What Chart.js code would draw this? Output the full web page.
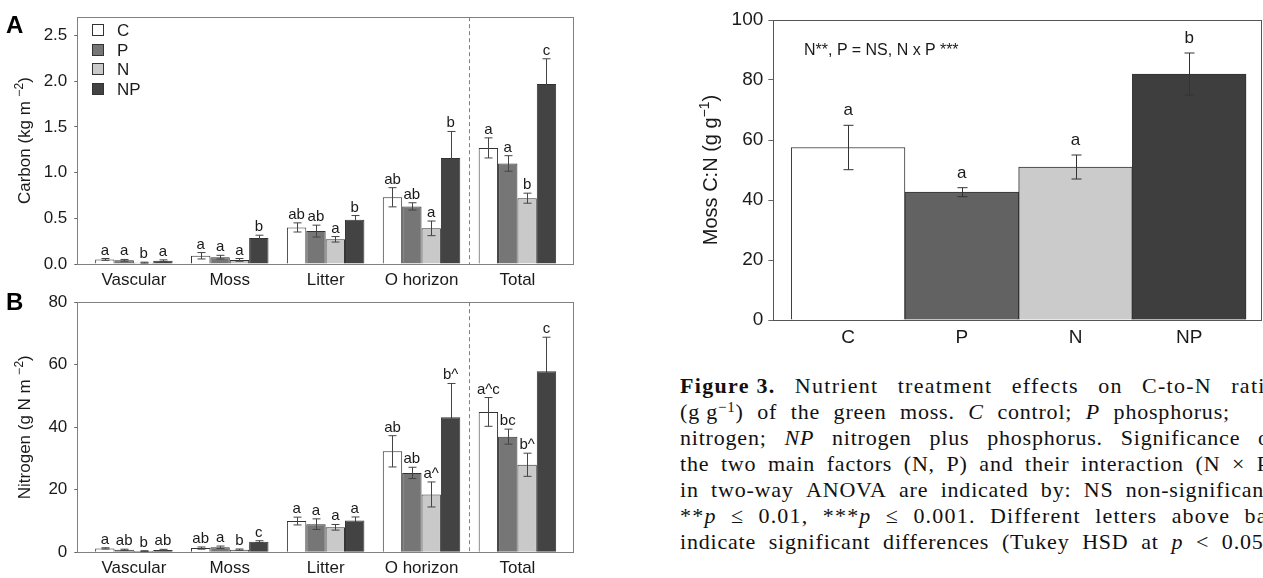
<!doctype html>
<html lang="en">
<head>
<meta charset="utf-8">
<title>Carbon and nitrogen pools, moss C:N</title>
<script src="https://cdn.jsdelivr.net/npm/chart.js@4.4.1/dist/chart.umd.min.js"></script>
<style>
  html,body{margin:0;padding:0;background:#fff;width:1263px;height:578px;overflow:hidden}
  body{position:relative;color:#1a1a1a;font-family:"Liberation Sans",Arial,Helvetica,sans-serif}
  canvas{position:absolute}
  .tag{position:absolute;font:bold 24px/24px "Liberation Sans",Arial,sans-serif;color:#000}
  .note{position:absolute;left:804px;top:42px;font:16px/16px "Liberation Sans",Arial,sans-serif;white-space:nowrap;color:#1a1a1a}
  .cap{position:absolute;left:680px;top:372.5px;font:22px/26.1px "Liberation Serif","Times New Roman",serif;color:#111;letter-spacing:.8px}
  .cap .ln{display:flex;justify-content:space-between;width:598px;height:26.1px;white-space:nowrap}
  .cap sup{font-size:.68em;line-height:0;vertical-align:.5em}
</style>
</head>
<body>
<canvas id="chartA" width="580" height="285" style="left:0;top:0"></canvas>
<canvas id="chartB" width="580" height="293" style="left:0;top:285px"></canvas>
<canvas id="chartCN" width="583" height="352" style="left:680px;top:0"></canvas>
<div class="tag" style="left:6px;top:13px">A</div>
<div class="tag" style="left:6px;top:290px">B</div>
<div class="note">N**, P = NS, N x P ***</div>

<div class="cap">
  <div class="ln" style="letter-spacing:1.3px;width:608px"><b>Figure&nbsp;3.</b><span>Nutrient</span><span>treatment</span><span>effects</span><span>on</span><span>C-to-N</span><span>ratios</span></div>
  <div class="ln" style="width:550px"><span>(g&nbsp;g<sup>−1</sup>)</span><span>of</span><span>the</span><span>green</span><span>moss.</span><i>C</i><span>control;</span><i>P</i><span>phosphorus;</span></div>
  <div class="ln"><span>nitrogen;</span><i>NP</i><span>nitrogen</span><span>plus</span><span>phosphorus.</span><span>Significance</span><span>of</span></div>
  <div class="ln"><span>the</span><span>two</span><span>main</span><span>factors</span><span>(N,</span><span>P)</span><span>and</span><span>their</span><span>interaction</span><span>(N</span><span>×</span><span>P)</span></div>
  <div class="ln"><span>in</span><span>two-way</span><span>ANOVA</span><span>are</span><span>indicated</span><span>by:</span><span>NS</span><span>non-significant;</span></div>
  <div class="ln" style="letter-spacing:1.2px;width:606px"><span>**<i>p</i></span><span>≤</span><span>0.01,</span><span>***<i>p</i></span><span>≤</span><span>0.001.</span><span>Different</span><span>letters</span><span>above</span><span>bars</span></div>
  <div class="ln"><span>indicate</span><span>significant</span><span>differences</span><span>(Tukey</span><span>HSD</span><span>at</span><i>p</i><span>&lt;</span><span>0.05).</span></div>
</div>

<script>
const FONT = '"Liberation Sans", Arial, Helvetica, sans-serif';

const groups = ['Vascular', 'Moss', 'Litter', 'O horizon', 'Total'];
const treatments = ['C', 'P', 'N', 'NP'];

// panel A - carbon (kg m-2), mean per group, one array per treatment
const carbonC  = [0.05, 0.09, 0.40, 0.73, 1.27];
const carbonP  = [0.04, 0.075, 0.36, 0.63, 1.10];
const carbonN  = [0.015, 0.045, 0.27, 0.39, 0.72];
const carbonNP = [0.035, 0.285, 0.485, 1.16, 1.97];
const carbonCErr  = [0.01, 0.035, 0.05, 0.105, 0.11];
const carbonPErr  = [0.01, 0.02, 0.065, 0.04, 0.085];
const carbonNErr  = [0.005, 0.015, 0.03, 0.08, 0.055];
const carbonNPErr = [0.01, 0.03, 0.045, 0.29, 0.275];
const carbonLetC  = ['a', 'a', 'ab', 'ab', 'a'];
const carbonLetP  = ['a', 'a', 'ab', 'ab', 'a'];
const carbonLetN  = ['b', 'a', 'a', 'a', 'b'];
const carbonLetNP = ['a', 'b', 'b', 'b', 'c'];
const carbonTicks = [0, 0.5, 1, 1.5, 2, 2.5];
const carbonTickLabels = ['0.0', '0.5', '1.0', '1.5', '2.0', '2.5'];

// panel B - nitrogen (g N m-2)
const nitroC  = [1.25, 1.35, 10.0, 32.3, 44.9];
const nitroP  = [0.8, 1.6, 9.0, 25.4, 37.0];
const nitroN  = [0.4, 0.85, 8.0, 18.5, 28.0];
const nitroNP = [0.75, 3.4, 10.2, 43.2, 57.9];
const nitroCErr  = [0.2, 0.35, 1.25, 5.0, 4.6];
const nitroPErr  = [0.2, 0.4, 1.7, 1.8, 2.4];
const nitroNErr  = [0.1, 0.2, 0.9, 4.0, 3.7];
const nitroNPErr = [0.2, 0.3, 1.1, 10.8, 10.9];
const nitroLetC  = ['a', 'ab', 'a', 'ab', 'a^c'];
const nitroLetP  = ['ab', 'a', 'a', 'ab', 'bc'];
const nitroLetN  = ['b', 'b', 'a', 'a^', 'b^'];
const nitroLetNP = ['ab', 'c', 'a', 'b^', 'c'];
const nitroTicks = [0, 20, 40, 60, 80];
const nitroTickLabels = ['0', '20', '40', '60', '80'];

// figure 3 - moss C:N (g g-1)
const mossCN    = [57.5, 42.6, 51.0, 82.0];
const mossCNErr = [7.4, 1.5, 4.0, 7.0];
const mossCNLet = ['a', 'a', 'a', 'b'];
const mossTicks = [0, 20, 40, 60, 80, 100];
const mossTickLabels = ['0', '20', '40', '60', '80', '100'];

const panelFills = ['#ffffff', '#767676', '#c9c9c9', '#434343'];
const mossFills  = ['#ffffff', '#626262', '#cbcbcb', '#3e3e3e'];

// error bars + letters above them, values come from the dataset
function errorBars(cap, gap, size, color) {
  return {
    id: 'errorBars',
    afterDatasetsDraw(chart) {
      const { ctx, scales: { y } } = chart;
      chart.data.datasets.forEach((ds, di) => {
        chart.getDatasetMeta(di).data.forEach((bar, i) => {
          const v = ds.data[i].y, e = ds.errors[i];
          const yt = y.getPixelForValue(v + e), yb = y.getPixelForValue(v - e);
          const x = Math.round(bar.x) + 0.5;
          ctx.save();
          ctx.strokeStyle = color;
          ctx.lineWidth = 1;
          ctx.beginPath();
          ctx.moveTo(x, yt); ctx.lineTo(x, yb);
          ctx.moveTo(x - cap, yt); ctx.lineTo(x + cap, yt);
          ctx.moveTo(x - cap, yb); ctx.lineTo(x + cap, yb);
          ctx.stroke();
          ctx.fillStyle = '#1a1a1a';
          ctx.font = size + 'px ' + FONT;
          ctx.textAlign = 'center';
          ctx.textBaseline = 'alphabetic';
          ctx.fillText(ds.letters[i], bar.x, yt - gap);
          ctx.restore();
        });
      });
    }
  };
}

// box round the plot, optional dashed separator
function frame(color, dashAt) {
  return {
    id: 'frame',
    afterDraw(chart) {
      const { ctx, chartArea: a, scales: { x } } = chart;
      ctx.save();
      ctx.strokeStyle = color;
      ctx.lineWidth = 1;
      if (dashAt != null) {
        const px = Math.round(x.getPixelForValue(dashAt)) + 0.5;
        ctx.setLineDash([4, 3]);
        ctx.beginPath(); ctx.moveTo(px, a.top); ctx.lineTo(px, a.bottom); ctx.stroke();
        ctx.setLineDash([]);
      }
      ctx.strokeRect(Math.round(a.left) + 0.5, Math.round(a.top) + 0.5,
        Math.round(a.right - a.left) - 1, Math.round(a.bottom - a.top));
      ctx.restore();
    }
  };
}

// rotated y title with a superscript part
function yTitle(x, size, parts) {
  return {
    id: 'yTitle',
    afterDraw(chart) {
      const { ctx, chartArea: a } = chart;
      const sup = size * 0.7;
      ctx.save();
      ctx.translate(x, (a.top + a.bottom) / 2);
      ctx.rotate(-Math.PI / 2);
      ctx.fillStyle = '#1a1a1a';
      ctx.textAlign = 'left';
      ctx.textBaseline = 'alphabetic';
      let total = 0;
      const widths = parts.map(([t, up]) => {
        ctx.font = (up ? sup : size) + 'px ' + FONT;
        const w = ctx.measureText(t).width;
        total += w;
        return w;
      });
      let cx = -total / 2;
      parts.forEach(([t, up], i) => {
        ctx.font = (up ? sup : size) + 'px ' + FONT;
        ctx.fillText(t, cx, up ? -size * 0.42 : 0);
        cx += widths[i];
      });
      ctx.restore();
    }
  };
}

function boxLegend(x, y0, step, size) {
  return {
    id: 'boxLegend',
    afterDraw(chart) {
      const { ctx } = chart;
      ctx.save();
      ctx.font = size + 'px ' + FONT;
      ctx.textBaseline = 'middle';
      ctx.textAlign = 'left';
      chart.data.datasets.forEach((ds, k) => {
        const y = Math.round(y0 + k * step);
        ctx.fillStyle = ds.backgroundColor;
        ctx.fillRect(x, y - 6, 12, 12);
        ctx.strokeStyle = '#333';
        ctx.strokeRect(x + 0.5, y - 5.5, 11, 11);
        ctx.fillStyle = '#1a1a1a';
        ctx.fillText(ds.label, x + 25, y + 1);
      });
      ctx.restore();
    }
  };
}

function xScale(labels, min, max, size, height) {
  return {
    type: 'linear', min, max, offset: false,
    afterBuildTicks: s => { s.ticks = labels.map((_, i) => ({ value: i })); },
    afterFit: s => { s.height = height; },
    grid: { display: false, drawTicks: false, offset: false },
    border: { display: false },
    ticks: { autoSkip: false, maxRotation: 0, padding: 6, color: '#1a1a1a',
      font: { size, family: FONT }, callback: (v, i) => labels[i] }
  };
}

function yScale(ticks, labels, max, size, width, tl, pad) {
  return {
    type: 'linear', min: 0, max,
    afterBuildTicks: s => { s.ticks = ticks.map(v => ({ value: v })); },
    afterFit: s => { s.width = width; },
    grid: { display: true, drawOnChartArea: false, drawTicks: true, tickLength: tl, color: '#666' },
    border: { display: false },
    ticks: { padding: pad, color: '#1a1a1a', font: { size, family: FONT }, callback: (v, i) => labels[i] }
  };
}

function panel(id, cfg) {
  return new Chart(document.getElementById(id), {
    type: 'bar',
    data: {
      datasets: cfg.series.map((vals, k) => ({
        label: treatments[k],
        data: vals.map((v, i) => ({ x: i, y: v })),
        errors: cfg.errors[k],
        letters: cfg.letters[k],
        backgroundColor: panelFills[k],
        borderColor: '#333',
        borderWidth: 1,
        categoryPercentage: 0.808,
        barPercentage: 1
      }))
    },
    options: {
      responsive: false, animation: false, events: [],
      layout: { padding: { top: cfg.top, right: 6, left: 0, bottom: 0 } },
      scales: {
        x: xScale(groups, -0.59, 4.59, 17, cfg.xHeight),
        y: yScale(cfg.ticks, cfg.tickLabels, cfg.max, 17, 77.3, 3, 7)
      },
      plugins: { legend: { display: false }, tooltip: { enabled: false } }
    },
    plugins: cfg.plugins
  });
}

panel('chartA', {
  series: [carbonC, carbonP, carbonN, carbonNP],
  errors: [carbonCErr, carbonPErr, carbonNErr, carbonNPErr],
  letters: [carbonLetC, carbonLetP, carbonLetN, carbonLetNP],
  ticks: carbonTicks, tickLabels: carbonTickLabels, max: 2.7,
  top: 10, xHeight: 21,
  plugins: [errorBars(4, 4, 15, '#444'), frame('#808080', 3.5),
    yTitle(30, 17, [['Carbon (kg m '], ['−2', true], [')']]),
    boxLegend(92, 30, 19.5, 17)]
});

panel('chartB', {
  series: [nitroC, nitroP, nitroN, nitroNP],
  errors: [nitroCErr, nitroPErr, nitroNErr, nitroNPErr],
  letters: [nitroLetC, nitroLetP, nitroLetN, nitroLetNP],
  ticks: nitroTicks, tickLabels: nitroTickLabels, max: 80,
  top: 12.7, xHeight: 25.7,
  plugins: [errorBars(4, 4, 15, '#444'), frame('#808080', 3.5),
    yTitle(30, 17, [['Nitrogen (g N m '], ['−2', true], [')']])]
});

new Chart(document.getElementById('chartCN'), {
  type: 'bar',
  data: {
    datasets: [{
      label: 'Moss C:N',
      data: mossCN.map((v, i) => ({ x: i, y: v })),
      errors: mossCNErr,
      letters: mossCNLet,
      backgroundColor: mossFills,
      borderColor: '#333',
      borderWidth: 1,
      categoryPercentage: 1,
      barPercentage: 1
    }]
  },
  options: {
    responsive: false, animation: false, events: [],
    layout: { padding: { top: 20, right: 0.8, left: 0, bottom: 0 } },
    scales: {
      x: xScale(treatments, -0.658, 3.642, 19, 32),
      y: yScale(mossTicks, mossTickLabels, 100, 19, 93.3, 5, 5)
    },
    plugins: { legend: { display: false }, tooltip: { enabled: false } }
  },
  plugins: [errorBars(5, 10, 17, '#333'), frame('#555', null),
    yTitle(37, 20, [['Moss C:N (g g'], ['−1', true], [')']])]
});
</script>
</body>
</html>
